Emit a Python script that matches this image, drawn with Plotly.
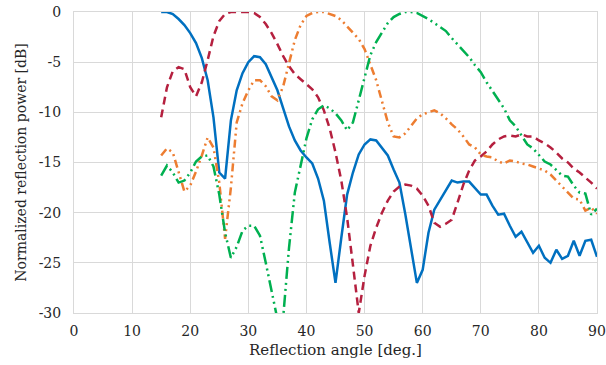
import plotly.graph_objects as go

# Reflection angle [deg.], 1-degree steps
angles = list(range(15, 91))

# Normalized reflection power [dB] for four designs
blue_db = [0, 0, -0.2, -0.7, -1.3, -2.1, -3.1, -4.6, -6.8, -10.5,
           -16.0, -16.6, -10.8, -7.8, -6.1, -5.0, -4.4, -4.5, -5.2, -6.5,
           -7.8, -9.6, -11.4, -12.8, -13.8, -14.5, -15.1, -16.6, -18.8, -23.0,
           -27.0, -22.5, -18.2, -16.0, -14.2, -13.2, -12.7, -12.8, -13.6, -14.3,
           -15.7, -17.0, -20.1, -23.5, -27.0, -25.7, -22.0, -19.7, -18.7, -17.7,
           -16.8, -17.0, -16.9, -16.9, -17.6, -18.2, -18.2, -19.3, -20.2, -20.1,
           -21.3, -22.4, -21.9, -23.0, -24.0, -23.3, -24.5, -25.0, -23.7, -24.6,
           -24.3, -22.8, -24.3, -22.8, -22.7, -24.4]

red_db = [-10.5, -7.5, -5.9, -5.5, -5.7, -7.5, -8.4, -7.0, -4.8, -2.4,
          -0.9, -0.2, 0, 0, 0, 0, -0.1, -0.5, -1.2, -2.1,
          -3.2, -4.4, -5.4, -6.2, -6.7, -7.2, -7.7, -8.5, -9.8, -11.6,
          -14.0, -16.8, -20.5, -25.2, -30.0, -26.3, -23.3, -21.5, -20.0, -18.8,
          -17.9, -17.4, -17.2, -17.3, -17.6, -18.3, -19.3, -21.0, -21.4, -21.1,
          -20.7, -19.0, -17.2, -15.8, -14.8, -14.4, -13.9, -13.2, -12.7, -12.4,
          -12.3, -12.4, -12.2, -12.4, -12.4, -12.8, -13.1, -13.5, -14.0, -14.6,
          -15.0, -15.6, -16.0, -16.5, -17.0, -17.6]

orange_db = [-14.3, -13.6, -14.0, -16.0, -17.9, -17.3, -15.9, -14.3, -12.5, -13.5,
             -17.0, -22.6, -17.5, -11.0, -9.1, -7.8, -6.8, -6.8, -7.4, -8.4,
             -8.8, -7.4, -5.0, -2.8, -1.3, -0.4, -0.1, 0, 0, -0.2,
             -0.4, -0.8, -1.4, -2.0, -2.7, -3.7, -5.3, -6.8, -8.9, -11.0,
             -12.4, -12.5, -12.1, -11.3, -10.6, -10.2, -10.0, -9.8, -10.1, -10.6,
             -11.2, -11.7, -12.4, -13.2, -13.5, -14.2, -14.4, -14.5, -14.9, -15.1,
             -14.8, -14.9, -15.1, -15.2, -15.4, -15.6, -15.8, -16.2, -16.8, -17.5,
             -18.0, -18.6, -18.7, -19.8, -19.5, -20.1]

green_db = [-16.3, -15.3, -16.0, -17.0, -16.8, -16.0, -14.9, -14.4, -14.3, -15.4,
            -18.2, -22.0, -24.5, -23.4, -21.8, -21.3, -21.3, -22.3, -25.0, -27.8,
            -30.6, -30.4, -23.5, -18.0, -15.2, -12.6, -10.7, -9.7, -9.3, -9.6,
            -10.1, -10.8, -11.8, -11.0, -8.8, -6.6, -4.3, -3.0, -2.0, -1.1,
            -0.5, -0.2, 0, 0, -0.1, -0.4, -0.7, -1.1, -1.5, -1.9,
            -2.6, -3.2, -3.8, -4.5, -5.3, -6.0, -7.0, -7.9, -8.7, -9.6,
            -10.8, -11.4, -12.3, -13.2, -13.6, -14.3, -14.9, -15.2, -15.8, -16.3,
            -16.4, -17.3, -18.0, -18.1, -20.2, -19.6]

x_ticks = [0, 10, 20, 30, 40, 50, 60, 70, 80, 90]
y_ticks = [0, -5, -10, -15, -20, -25, -30]
y_tick_text = ["0", "-5", "-10", "-15", "-20", "-25", "-30"]

FONT = "DejaVu Serif"
GRID = "#D9D9D9"

series = [
    (blue_db, "#0070C0", "solid"),
    (red_db, "#B5203F", "8px,5px"),
    (orange_db, "#ED7D31", "8px,4px,2px,4px,2px,4px"),
    (green_db, "#00B050", "12px,4px,2px,4px,2px,4px"),
]

fig = go.Figure()
for values, color, dash in series:
    fig.add_trace(go.Scatter(
        x=angles, y=values, mode="lines",
        line=dict(color=color, width=2.5, dash=dash),
        showlegend=False,
    ))

fig.update_layout(
    width=606, height=365,
    margin=dict(l=74, r=9, t=12, b=52, autoexpand=False),
    plot_bgcolor="white", paper_bgcolor="white",
    font=dict(family=FONT, size=14, color="#262626"),
    xaxis=dict(
        range=[0, 90], tickvals=x_ticks, automargin=False,
        showgrid=True, gridcolor=GRID, gridwidth=1,
        zeroline=False, showline=True, linecolor=GRID, mirror=True,
        ticks="", ticklabelstandoff=5,
        title=dict(text="Reflection angle [deg.]", font=dict(size=15), standoff=6),
    ),
    yaxis=dict(
        range=[-30, 0], tickvals=y_ticks, ticktext=y_tick_text, automargin=False,
        showgrid=True, gridcolor=GRID, gridwidth=1,
        zeroline=False, showline=True, linecolor=GRID, mirror=True,
        ticks="", ticklabelstandoff=9,
        title=dict(text="Normalized reflection power [dB]", font=dict(size=14), standoff=8),
    ),
)

fig.write_html("out.html")
